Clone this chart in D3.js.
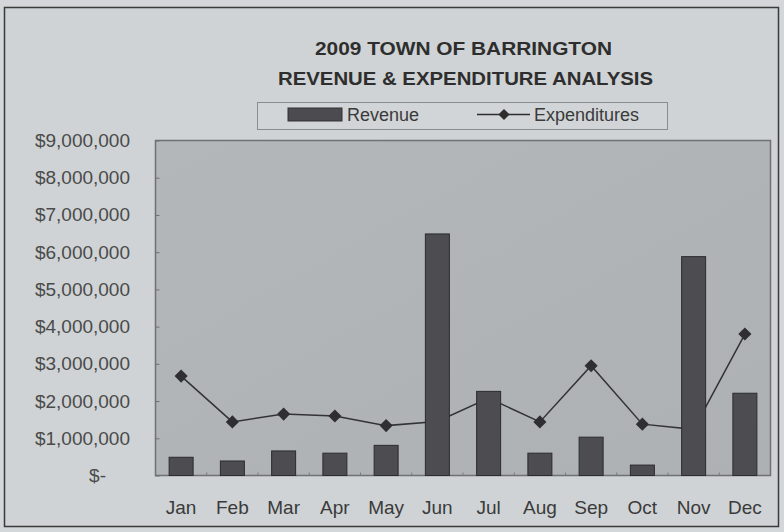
<!DOCTYPE html>
<html>
<head>
<meta charset="utf-8">
<script src="https://cdn.jsdelivr.net/npm/d3@7"></script>
<style>
  body { margin:0; background:#d3d7d9; }
  svg { display:block; font-family:"Liberation Sans", Arial, sans-serif; }
</style>
</head>
<body>
<svg id="chart" width="784" height="532"></svg>
<script>
// values
const months = ["Jan","Feb","Mar","Apr","May","Jun","Jul","Aug","Sep","Oct","Nov","Dec"];
const revenue = [490000, 390000, 660000, 600000, 810000, 6490000, 2260000, 600000, 1030000, 280000, 5880000, 2210000];
const expenditures = [2670000, 1440000, 1650000, 1600000, 1340000, 1450000, 2080000, 1440000, 2950000, 1380000, 1240000, 3800000];
const yTicks = [0, 1000000, 2000000, 3000000, 4000000, 5000000, 6000000, 7000000, 8000000, 9000000];
const titleLines = ["2009 TOWN OF BARRINGTON", "REVENUE & EXPENDITURE ANALYSIS"];

const svg = d3.select("#chart");
const plot = {left:155.5, right:770.5, top:140.5, bottom:475.5};

const x = d3.scaleBand().domain(months).range([plot.left, plot.right]);
const y = d3.scaleLinear().domain([0, 9000000]).range([plot.bottom, plot.top]);

// outer frame
svg.append("rect").attr("x",4.5).attr("y",7.5).attr("width",774).attr("height",519)
  .attr("fill","#cfd3d5").attr("stroke","#3a3a3a").attr("stroke-width",1.5);

// title
svg.append("text").attr("x",463.5).attr("y",55).attr("text-anchor","middle")
  .attr("font-size",18).attr("font-weight","bold").attr("fill","#2e2e2e")
  .attr("textLength",297).attr("lengthAdjust","spacingAndGlyphs").text(titleLines[0]);
svg.append("text").attr("x",465.5).attr("y",85).attr("text-anchor","middle")
  .attr("font-size",18).attr("font-weight","bold").attr("fill","#2e2e2e")
  .attr("textLength",375).attr("lengthAdjust","spacingAndGlyphs").text(titleLines[1]);

// legend
const legend = svg.append("g");
legend.append("rect").attr("x",257.5).attr("y",102.5).attr("width",410).attr("height",27)
  .attr("fill","#d1d5d7").attr("stroke","#8a8c8e");
legend.append("rect").attr("x",288).attr("y",108).attr("width",54).attr("height",13)
  .attr("fill","#4b4b50").attr("stroke","#333");
legend.append("text").attr("x",347).attr("y",120.5).attr("font-size",18).attr("fill","#3a3a3a").text("Revenue");
legend.append("line").attr("x1",477).attr("x2",530).attr("y1",114.5).attr("y2",114.5)
  .attr("stroke","#2e2e2e").attr("stroke-width",1.5);
legend.append("path").attr("transform","translate(504,114.5)")
  .attr("d",d3.symbol(d3.symbolDiamond2, 80)).attr("fill","#2e2e2e");
legend.append("text").attr("x",534).attr("y",120.5).attr("font-size",18).attr("fill","#3a3a3a").text("Expenditures");

// plot area
const defs = svg.append("defs");
const grad = defs.append("linearGradient").attr("id","plotbg").attr("x1",0).attr("y1",0).attr("x2",1).attr("y2",1);
grad.append("stop").attr("offset","0%").attr("stop-color","#b3b7b9");
grad.append("stop").attr("offset","100%").attr("stop-color","#adb1b3");
svg.append("rect").attr("x",plot.left).attr("y",plot.top)
  .attr("width",plot.right-plot.left).attr("height",plot.bottom-plot.top)
  .attr("fill","url(#plotbg)").attr("stroke","#6f7173").attr("stroke-width",1.5);

// y axis
const yAxis = svg.append("g").attr("transform","translate("+plot.left+",0)")
  .call(d3.axisRight(y).tickValues(yTicks).tickSize(4).tickFormat(""));
yAxis.select(".domain").remove();
yAxis.selectAll("line").attr("stroke","#6f7173");

svg.selectAll(".ylabel").data(yTicks).enter().append("text")
  .attr("class","ylabel")
  .attr("x", d => d == 0 ? 106 : 130)
  .attr("y", d => y(d) + 6.5)
  .attr("text-anchor","end").attr("font-size",19).attr("fill","#4a4a4a")
  .text(d => d == 0 ? "$-" : "$" + d3.format(",")(d));

// x axis
const xAxis = svg.append("g").attr("transform","translate(0,"+plot.bottom+")")
  .call(d3.axisTop(x).tickSize(0).tickFormat(""));
xAxis.select(".domain").remove();
svg.selectAll(".xtick").data(months.slice(1)).enter().append("line")
  .attr("class","xtick")
  .attr("x1", d => x(d)).attr("x2", d => x(d))
  .attr("y1", plot.bottom).attr("y2", plot.bottom-3)
  .attr("stroke","#7a7c7e");
svg.selectAll(".xlabel").data(months).enter().append("text")
  .attr("class","xlabel")
  .attr("x", d => x(d) + x.bandwidth()/2)
  .attr("y", 514)
  .attr("text-anchor","middle").attr("font-size",19).attr("fill","#3a3a3a")
  .text(d => d);

// expenditures line (bars sit on top of it in the original)
const line = d3.line()
  .x((d,i) => x(months[i]) + x.bandwidth()/2)
  .y(d => y(d));
svg.append("path").datum(expenditures).attr("d",line)
  .attr("fill","none").attr("stroke","#333335").attr("stroke-width",1.5);
svg.selectAll(".marker").data(expenditures).enter().append("path")
  .attr("class","marker")
  .attr("transform",(d,i) => "translate("+(x(months[i]) + x.bandwidth()/2)+","+y(d)+")")
  .attr("d",d3.symbol(d3.symbolDiamond2, 110))
  .attr("fill","#2f2f31");

// revenue bars
const barW = 24;
svg.selectAll(".bar").data(revenue).enter().append("rect")
  .attr("class","bar")
  .attr("x",(d,i) => x(months[i]) + x.bandwidth()/2 - barW/2)
  .attr("y", d => y(d))
  .attr("width", barW)
  .attr("height", d => plot.bottom - y(d))
  .attr("fill","#4c4c51").attr("stroke","#2c2c2e").attr("stroke-width",1);
</script>
</body>
</html>
